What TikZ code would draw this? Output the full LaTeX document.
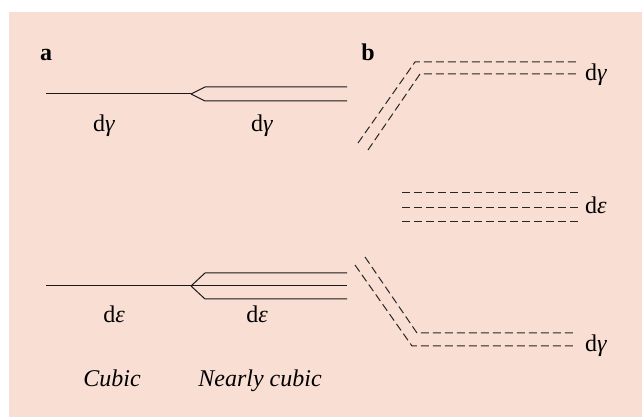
\documentclass[tikz,border=0pt]{standalone}
\usepackage{fontspec}
\setmainfont{Liberation Serif}
\definecolor{bgpeach}{RGB}{249,222,212}
\begin{document}
\begin{tikzpicture}[x=1pt,y=1pt,
  lvl/.style={line width=1.0pt, black!90},
  dlvl/.style={line width=1.0pt, black!85, dash pattern=on 8pt off 4pt},
  lab/.style={font=\fontsize{24}{28}\selectfont, inner sep=0pt, anchor=base},
  rlab/.style={lab, anchor=base west},
  hdr/.style={font=\fontsize{24}{28}\selectfont\bfseries, inner sep=0pt, anchor=base}]
\useasboundingbox (0,0) rectangle (642,417);
\fill[bgpeach] (9,0) rectangle (642,405);
% --- panel a: upper level (dgamma)
\coordinate (g0) at (46,323);
\coordinate (gf) at (191,323);
\coordinate (gu) at (205,330);
\coordinate (gl) at (205,316);
\coordinate (gue) at (347,330);
\coordinate (gle) at (347,316);
\draw[lvl] (g0) -- (gf);
\draw[lvl] (gf) -- (gu) -- (gue);
\draw[lvl] (gf) -- (gl) -- (gle);
% --- panel a: lower level (depsilon)
\coordinate (e0) at (46,131);
\coordinate (ef) at (191,131);
\coordinate (eu) at (205,144);
\coordinate (el) at (205,118);
\coordinate (eme) at (347,131);
\coordinate (eue) at (347,144);
\coordinate (ele) at (347,118);
\draw[lvl] (e0) -- (eme);
\draw[lvl] (ef) -- (eu) -- (eue);
\draw[lvl] (ef) -- (el) -- (ele);
% labels panel a
\node[hdr] (la) at (46,356) {a};
\node[lab] (lg1) at (104,285) {d\textit{γ}};
\node[lab] (lg2) at (262,285) {d\textit{γ}};
\node[lab] (le1) at (114,94) {d\textit{ε}};
\node[lab] (le2) at (257,94) {d\textit{ε}};
\node[lab] (lc) at (112,30) {\textit{Cubic}};
\node[lab] (lnc) at (260,30) {\textit{Nearly cubic}};
% --- panel b
\node[hdr] (lb) at (368,356) {b};
\coordinate (a1s) at (358,274);
\coordinate (a1c) at (415,355);
\coordinate (a1e) at (577,355);
\coordinate (a2s) at (368,267);
\coordinate (a2c) at (420,343);
\coordinate (a2e) at (577,343);
\draw[dlvl] (a1s) -- (a1c) -- (a1e);
\draw[dlvl] (a2s) -- (a2c) -- (a2e);
\node[rlab] (rg1) at (585,336) {d\textit{γ}};
\coordinate (m1s) at (402,224);
\coordinate (m1e) at (578,224);
\coordinate (m2s) at (402,209);
\coordinate (m2e) at (578,209);
\coordinate (m3s) at (402,195);
\coordinate (m3e) at (578,195);
\draw[dlvl] (m1s) -- (m1e);
\draw[dlvl] (m2s) -- (m2e);
\draw[dlvl] (m3s) -- (m3e);
\node[rlab] (re) at (585,203) {d\textit{ε}};
\coordinate (b1s) at (355,152);
\coordinate (b1c) at (412,71);
\coordinate (b1e) at (573,71);
\coordinate (b2s) at (365,160);
\coordinate (b2c) at (417,84);
\coordinate (b2e) at (573,84);
\draw[dlvl] (b1s) -- (b1c) -- (b1e);
\draw[dlvl] (b2s) -- (b2c) -- (b2e);
\node[rlab] (rg2) at (585,65) {d\textit{γ}};
\end{tikzpicture}
\end{document}
